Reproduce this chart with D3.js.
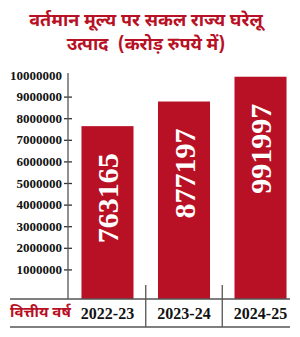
<!DOCTYPE html>
<html>
<head>
<meta charset="utf-8">
<script src="https://cdn.jsdelivr.net/npm/d3@7"></script>
<style>
  body { margin: 0; background: #fff; }
  svg { display: block; }
</style>
</head>
<body>
<div id="chart"></div>
<script>
// data
const years = ["2022-23", "2023-24", "2024-25"];
const gsdp = [763165, 877197, 991997];           // करोड़ रुपये
const yTicks = [1000000, 2000000, 3000000, 4000000, 5000000,
                6000000, 7000000, 8000000, 9000000, 10000000];
const titleLines = ["वर्तमान मूल्य पर सकल राज्य घरेलू", "उत्पाद  (करोड़ रुपये में)"];
const xTitle = "वित्तीय वर्ष";
// the printed bars are drawn against the axis at 10x the label value
const barFactor = 10;

const W = 300, H = 337;
const red = "#b81024";
const hindi = "'Noto Sans Devanagari', 'Noto Sans', sans-serif";
const serif = "'Liberation Serif', 'Times New Roman', serif";

const svg = d3.select("#chart").append("svg")
    .attr("width", W).attr("height", H);

const baseY = 299, axisX = 68;

const y = d3.scaleLinear()
    .domain([-370000, 10000000])
    .range([baseY, 75]);

const x = d3.scaleBand()
    .domain(years)
    .range([70, 298])
    .paddingInner(0.32)
    .paddingOuter(0.15);

// title
svg.append("g").selectAll("text")
  .data(titleLines)
  .join("text")
    .attr("x", 146)
    .attr("y", (d, i) => 26 + i * 24)
    .attr("text-anchor", "middle")
    .attr("fill", red)
    .attr("font-family", hindi)
    .attr("font-weight", "bold")
    .attr("font-size", 18)
    .style("white-space", "pre")
    .text(d => d);

// bars
svg.append("g").selectAll("rect")
  .data(gsdp)
  .join("rect")
    .attr("x", (d, i) => x(years[i]))
    .attr("y", d => y(d * barFactor))
    .attr("width", x.bandwidth())
    .attr("height", d => baseY - y(d * barFactor))
    .attr("fill", red);

// value labels
svg.append("g").selectAll("text")
  .data(gsdp)
  .join("text")
    .attr("transform", (d, i) =>
      `translate(${x(years[i]) + x.bandwidth() / 2},${y(d * barFactor) + 27}) rotate(-90)`)
    .attr("text-anchor", "end")
    .attr("dominant-baseline", "central")
    .attr("fill", "#fff")
    .attr("font-family", serif)
    .attr("font-weight", "bold")
    .attr("font-size", 30)
    .text(d => d);

// y axis
const yAxis = svg.append("g")
    .attr("transform", `translate(${axisX},0)`)
    .call(d3.axisLeft(y).tickValues(yTicks).tickSize(4).tickPadding(6)
      .tickFormat(d3.format("d")));
yAxis.select(".domain").remove();
yAxis.append("line")
    .attr("y1", y(10000000) - 2).attr("y2", baseY)
    .attr("stroke", "#555").attr("stroke-width", 1.3);
yAxis.selectAll(".tick line")
    .attr("x2", 4).attr("x1", -4)
    .attr("stroke", "#333").attr("stroke-width", 1.3);
yAxis.selectAll(".tick").filter(d => d === 10000000).select("line").remove();
yAxis.selectAll(".tick text")
    .attr("x", -6)
    .attr("fill", "#111")
    .attr("font-family", serif)
    .attr("font-weight", "bold")
    .attr("font-size", 13);

// bottom frame
const frame = svg.append("g").attr("stroke", "#555").attr("stroke-width", 1.3);
frame.append("line").attr("x1", 10).attr("x2", 290).attr("y1", baseY).attr("y2", baseY);
frame.append("line").attr("x1", 10).attr("x2", 290).attr("y1", 327).attr("y2", 327);
years.slice(1).forEach(c => {
  const sx = x(c) - x.step() * x.paddingInner() / 2;
  frame.append("line").attr("x1", sx).attr("x2", sx).attr("y1", 285).attr("y2", 327);
});

// x labels
svg.append("g").selectAll("text")
  .data(years)
  .join("text")
    .attr("x", d => x(d) + x.bandwidth() / 2)
    .attr("y", 313)
    .attr("text-anchor", "middle")
    .attr("dominant-baseline", "central")
    .attr("fill", "#111")
    .attr("font-family", serif)
    .attr("font-weight", "bold")
    .attr("font-size", 16)
    .text(d => d);

svg.append("text")
    .attr("x", 10)
    .attr("y", 313)
    .attr("dominant-baseline", "central")
    .attr("fill", red)
    .attr("font-family", hindi)
    .attr("font-weight", "bold")
    .attr("font-size", 15)
    .text(xTitle);
</script>
</body>
</html>
